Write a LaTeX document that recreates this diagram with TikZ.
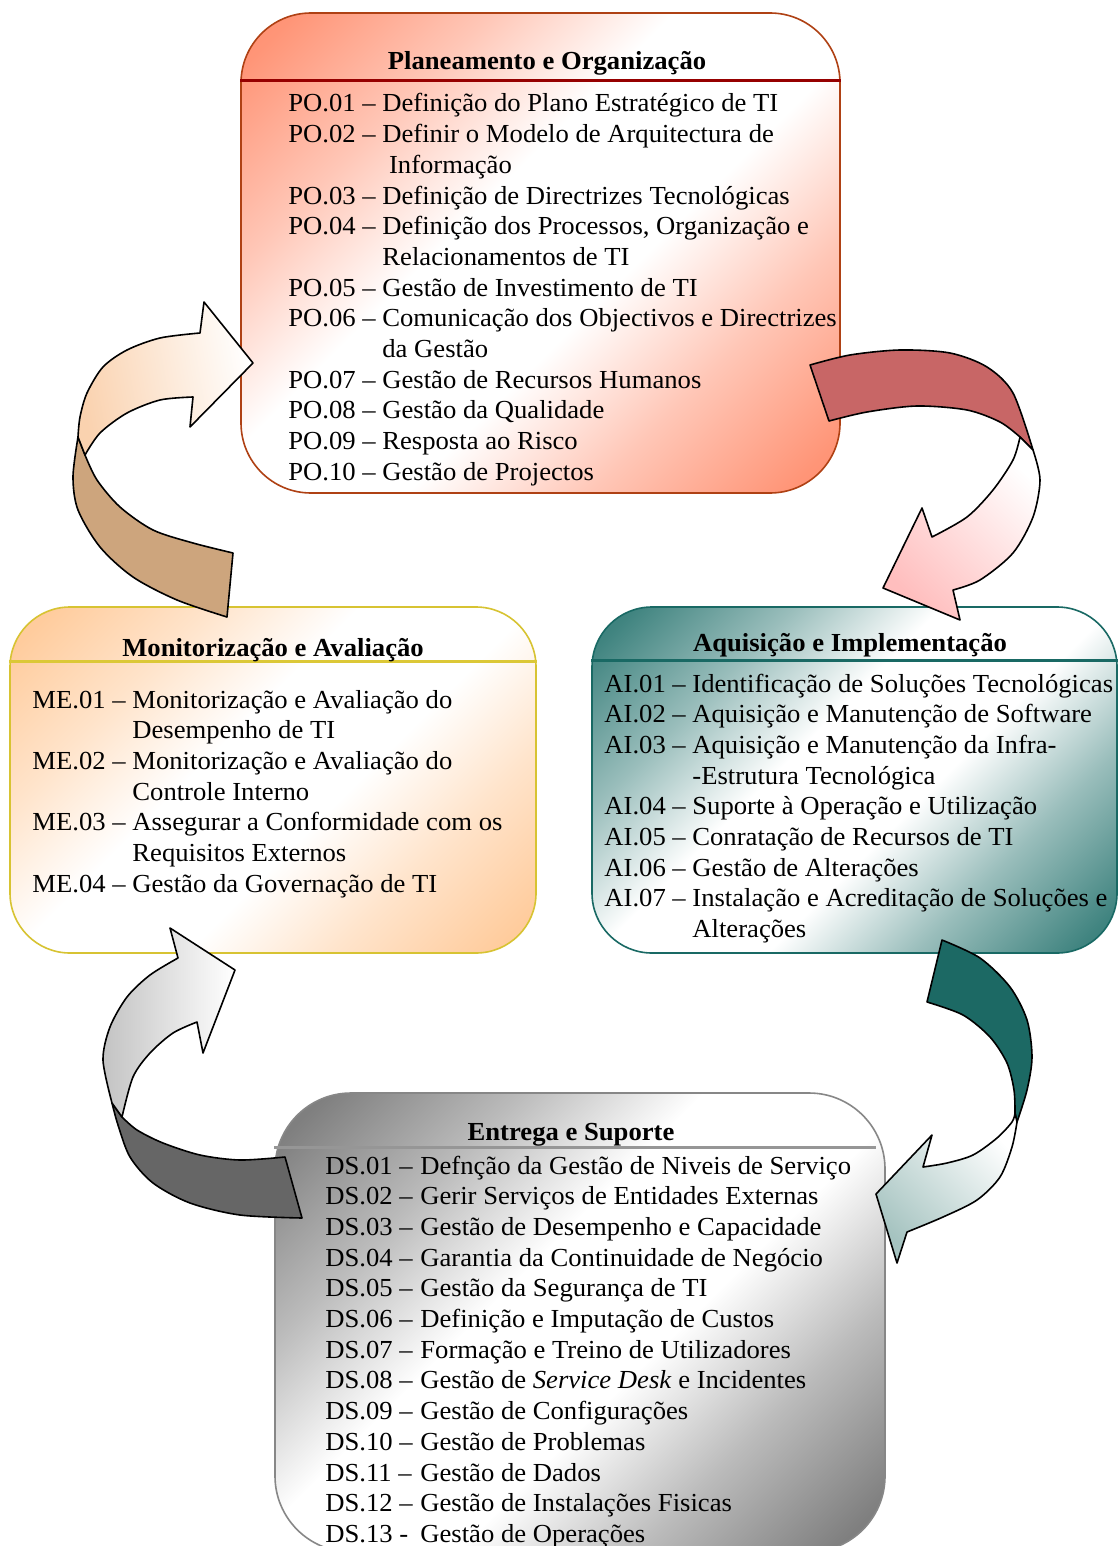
\documentclass[tikz,border=0pt]{standalone}
\usepackage{fontspec}
\setmainfont{Liberation Serif}[FakeStretch=1.025]
\usepackage{array}
\usetikzlibrary{positioning}

\definecolor{poFill}{RGB}{255,130,95}
\definecolor{poEdge}{RGB}{175,65,20}
\definecolor{poRule}{RGB}{150,0,0}
\definecolor{meFill}{RGB}{255,195,140}
\definecolor{meEdge}{RGB}{215,195,50}
\definecolor{meRule}{RGB}{220,200,55}
\definecolor{aiFill}{RGB}{30,110,105}
\definecolor{aiEdge}{RGB}{25,105,100}
\definecolor{aiRule}{RGB}{25,105,100}
\definecolor{dsFill}{RGB}{105,105,105}
\definecolor{dsEdge}{RGB}{135,135,135}
\definecolor{dsRule}{RGB}{150,150,150}
\definecolor{tanBand}{RGB}{205,165,125}
\definecolor{tanFace}{RGB}{250,210,175}
\definecolor{redBand}{RGB}{200,102,102}
\definecolor{redFace}{RGB}{255,190,190}
\definecolor{tealBand}{RGB}{28,105,100}
\definecolor{tealFace}{RGB}{165,195,192}
\definecolor{greyBand}{RGB}{102,102,102}
\definecolor{greyFace}{RGB}{195,195,195}

%% corner -> white -> corner shading of the four boxes
\newcommand\boxshading[2]{%
  \pgfdeclarehorizontalshading{#1}{100bp}{color(0bp)=(#2); color(18bp)=(#2!85!white);
    color(31bp)=(#2!45!white); color(43bp)=(white); color(57bp)=(white);
    color(69bp)=(#2!45!white); color(82bp)=(#2!85!white); color(100bp)=(#2)}}
\boxshading{poShade}{poFill}
\boxshading{meShade}{meFill}
\boxshading{aiShade}{aiFill}
\boxshading{dsShade}{dsFill}

\begin{document}
\begin{tikzpicture}[
  x=0.5pt, y=-0.5pt,
  %% Rounded domain box (1-arg: prefix)
  domain/.style={
    draw=#1Edge,
    line width=0.8pt,
    shade, shading=#1Shade, shading angle=-45,
    inner sep=0pt
  },
  %% Bold heading of a box
  heading/.style={
    font=\fontsize{13}{15}\selectfont\bfseries,
    anchor=base, inner sep=0pt
  },
  %% List of processes
  items/.style={
    font=\fontsize{13}{15.35}\selectfont,
    anchor=base west, inner sep=0pt, align=left
  },
  headRule/.style={line width=1.5pt, draw=#1},
  %% Curved ribbon arrows
  band/.style={fill=#1, draw=black, line width=0.8pt, line join=round},
  face/.style={draw=black, line width=0.8pt, line join=round,
    top color=#1, bottom color=white}
]
\useasboundingbox (0,0) rectangle (1119,1546);

%% ---- Boxes ----
\node[domain=po, rounded corners=35pt, minimum width=299.5pt, minimum height=240pt]
  (po) at (540.5,253) {};
\node[domain=me, rounded corners=30pt, minimum width=263pt, minimum height=173pt]
  (me) at (273,780) {};
\node[domain=ai, rounded corners=30pt, minimum width=262.5pt, minimum height=173pt]
  (ai) at (854.5,780) {};
\node[domain=ds, rounded corners=38pt, minimum width=305pt, minimum height=229.5pt]
  (ds) at (580,1322.5) {};

%% ---- Heading rules ----
\draw[headRule=poRule] ([yshift=-34pt]po.north west) -- ([yshift=-34pt]po.north east);
\draw[headRule=meRule] ([yshift=-27.5pt]me.north west) -- ([yshift=-27.5pt]me.north east);
\draw[headRule=aiRule] ([yshift=-27pt]ai.north west) -- ([yshift=-27pt]ai.north east);
\draw[headRule=dsRule] ([yshift=-27.5pt]ds.north west) -- ([yshift=-27.5pt,xshift=-5pt]ds.north east);

%% ---- Headings ----
\node[heading] (poTitle) at (547,70)   {Planeamento e Organização};
\node[heading] (meTitle) at (273,656)  {Monitorização e Avaliação};
\node[heading] (aiTitle) at (850,651)  {Aquisição e Implementação};
\node[heading] (dsTitle) at (571,1140) {Entrega e Suporte};

%% ---- Process lists ----
\node[items] (poList) at (288,112) {\begin{tabular}[t]{@{}p{47pt}@{}l@{}}
PO.01 -- & Definição do Plano Estratégico de TI\\
PO.02 -- & Definir o Modelo de Arquitectura de\\
         & \ Informação\\
PO.03 -- & Definição de Directrizes Tecnológicas\\
PO.04 -- & Definição dos Processos, Organização e\\
         & Relacionamentos de TI\\
PO.05 -- & Gestão de Investimento de TI\\
PO.06 -- & Comunicação dos Objectivos e Directrizes\\
         & da Gestão\\
PO.07 -- & Gestão de Recursos Humanos\\
PO.08 -- & Gestão da Qualidade\\
PO.09 -- & Resposta ao Risco\\
PO.10 -- & Gestão de Projectos
\end{tabular}};

\node[items] (meList) at (32,708) {\begin{tabular}[t]{@{}p{50pt}@{}l@{}}
ME.01 -- & Monitorização e Avaliação do\\
         & Desempenho de TI\\
ME.02 -- & Monitorização e Avaliação do\\
         & Controle Interno\\
ME.03 -- & Assegurar a Conformidade com os\\
         & Requisitos Externos\\
ME.04 -- & Gestão da Governação de TI
\end{tabular}};

\node[items] (aiList) at (604,692) {\begin{tabular}[t]{@{}p{44pt}@{}l@{}}
AI.01 -- & Identificação de Soluções Tecnológicas\\
AI.02 -- & Aquisição e Manutenção de Software\\
AI.03 -- & Aquisição e Manutenção da Infra-\\
         & -Estrutura Tecnológica\\
AI.04 -- & Suporte à Operação e Utilização\\
AI.05 -- & Conratação de Recursos de TI\\
AI.06 -- & Gestão de Alterações\\
AI.07 -- & Instalação e Acreditação de Soluções e\\
         & Alterações
\end{tabular}};

\node[items] (dsList) at (325,1174) {\begin{tabular}[t]{@{}p{47.5pt}@{}l@{}}
DS.01 -- & Defnção da Gestão de Niveis de Serviço\\
DS.02 -- & Gerir Serviços de Entidades Externas\\
DS.03 -- & Gestão de Desempenho e Capacidade\\
DS.04 -- & Garantia da Continuidade de Negócio\\
DS.05 -- & Gestão da Segurança de TI\\
DS.06 -- & Definição e Imputação de Custos\\
DS.07 -- & Formação e Treino de Utilizadores\\
DS.08 -- & Gestão de \textit{Service Desk} e Incidentes\\
DS.09 -- & Gestão de Configurações\\
DS.10 -- & Gestão de Problemas\\
DS.11 -- & Gestão de Dados\\
DS.12 -- & Gestão de Instalações Fisicas\\
DS.13 -  & Gestão de Operações
\end{tabular}};

%% ---- Ribbon arrow: ME -> PO ----
\draw[band=tanBand]
  plot[smooth] coordinates {(227,617) (177,600) (133,577) (100,547) (78,510) (73,477) (78,437)}
  -- plot[smooth] coordinates {(85,455) (97,480) (120,507) (153,530) (193,543) (233,553)} -- cycle;
\draw[face=tanFace, shading angle=100]
  plot[smooth] coordinates {(78,437) (80,417) (87,393) (103,367) (127,350) (160,338) (200,333)}
  -- (204,302) -- (253,363) -- (190,427)
  -- plot[smooth] coordinates {(193,397) (160,400) (127,413) (100,433) (85,455)} -- cycle;

%% ---- Ribbon arrow: PO -> AI ----
\draw[band=redBand]
  plot[smooth] coordinates {(810,365) (850,355) (900,350) (950,353) (987,367) (1013,393) (1033,450)}
  -- plot[smooth] coordinates {(1020,437) (1000,422) (967,410) (917,406) (867,412) (829,421)} -- cycle;
\draw[face=redFace, shading angle=135]
  plot[smooth] coordinates {(1033,450) (1040,480) (1033,517) (1013,553) (980,580) (953,590)}
  -- (960,620) -- (883,588) -- (922,508)
  -- plot[smooth] coordinates {(932,537) (967,517) (993,490) (1013,460) (1020,437)} -- cycle;

%% ---- Ribbon arrow: AI -> DS ----
\draw[band=tealBand]
  plot[smooth] coordinates {(942,940) (980,958) (1010,987) (1027,1020) (1032,1057) (1027,1090) (1017,1122)}
  -- plot[smooth] coordinates {(1015,1113) (1014,1090) (1007,1063) (990,1037) (963,1015) (927,1002)} -- cycle;
\draw[face=tealFace, shading angle=135]
  plot[smooth] coordinates {(1017,1122) (1012,1147) (1000,1177) (977,1200) (943,1217) (907,1232)}
  -- (897,1263) -- (876,1194) -- (932,1135)
  -- plot[smooth] coordinates {(923,1167) (947,1163) (973,1155) (997,1138) (1012,1122) (1015,1113)} -- cycle;

%% ---- Ribbon arrow: DS -> ME ----
\draw[band=greyBand]
  plot[smooth] coordinates {(302,1218) (240,1215) (190,1203) (153,1183) (130,1157) (118,1125) (112,1103)}
  -- plot[smooth] coordinates {(122,1117) (137,1130) (163,1143) (200,1155) (240,1160) (285,1157)} -- cycle;
\draw[face=greyFace, shading angle=90]
  plot[smooth] coordinates {(112,1103) (103,1060) (110,1027) (127,997) (150,975) (178,958)}
  -- (170,928) -- (235,970) -- (203,1053)
  -- plot[smooth] coordinates {(197,1022) (173,1033) (150,1053) (133,1077) (122,1117)} -- cycle;

\end{tikzpicture}
\end{document}
